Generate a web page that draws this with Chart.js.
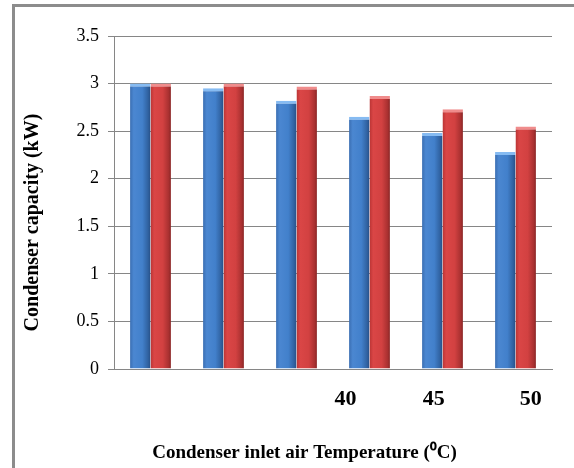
<!DOCTYPE html>
<html>
<head>
<meta charset="utf-8">
<script src="https://cdn.jsdelivr.net/npm/chart.js@4.4.1/dist/chart.umd.min.js"></script>
<style>
  html, body { margin: 0; padding: 0; background: #fff; }
  #wrap { position: relative; width: 574px; height: 468px; }
  #frame { position: absolute; left: 12px; top: 4px; right: 0; bottom: 0;
           border-left: 3px solid #8c8c8c; border-top: 3px solid #8c8c8c; }
  canvas { position: absolute; left: 0; top: 0; }
</style>
</head>
<body>
<div id="wrap">
  <div id="frame"></div>
  <canvas id="chart" width="574" height="468"></canvas>
</div>
<script>
// data
const categories = ["25", "30", "35", "40", "45", "50"];
const seriesBlue = [3.0, 2.95, 2.82, 2.65, 2.48, 2.28];
const seriesRed = [3.0, 3.0, 2.97, 2.87, 2.73, 2.55];
const tickLabels = ["40", "45", "50"];

const catPct = 0.56;
const serif = "'Liberation Serif', 'Times New Roman', serif";

// horizontal gradient per bar, so it looks a bit like a cylinder
function barFill(stops, fallback) {
  return (ctx) => {
    const chart = ctx.chart;
    const x = chart.scales.x;
    if (!x || ctx.dataIndex === undefined) return fallback;
    const center = x.getPixelForValue(ctx.dataIndex);
    const w = (x.width / categories.length) * catPct / 2;
    if (!isFinite(center) || !isFinite(w) || w <= 0) return fallback;
    const left = ctx.datasetIndex === 0 ? center - w : center;
    const g = chart.ctx.createLinearGradient(left, 0, left + w, 0);
    stops.forEach(s => g.addColorStop(s[0], s[1]));
    return g;
  };
}

const blueStops = [[0, "#3a6eb2"], [0.18, "#4b87d1"], [0.6, "#4280cb"], [0.88, "#3062a1"], [1, "#274f86"]];
const redStops = [[0, "#b93434"], [0.18, "#da4646"], [0.6, "#d24141"], [0.88, "#aa3131"], [1, "#8a2626"]];

new Chart(document.getElementById("chart"), {
  type: "bar",
  data: {
    labels: categories,
    datasets: [
      {
        data: seriesBlue,
        backgroundColor: barFill(blueStops, "#4280cb"),
        borderColor: "#86bbf2",
        borderWidth: { top: 3, left: 0, right: 0, bottom: 0 },
        borderSkipped: "bottom",
      },
      {
        data: seriesRed,
        backgroundColor: barFill(redStops, "#d24141"),
        borderColor: "#f08c8c",
        borderWidth: { top: 3, left: 0, right: 0, bottom: 0 },
        borderSkipped: "bottom",
      },
    ],
  },
  options: {
    responsive: false,
    animation: false,
    layout: { padding: { top: 36, right: 22, bottom: 0, left: 0 } },
    datasets: { bar: { barPercentage: 1, categoryPercentage: catPct } },
    plugins: {
      legend: { display: false },
      tooltip: { enabled: false },
    },
    scales: {
      x: {
        grid: { display: false },
        border: { color: "#868686", width: 1 },
        ticks: { display: false },
        afterFit: (s) => { s.height = 0; },
      },
      x2: {
        type: "linear",
        position: "bottom",
        offset: false,
        min: 0,
        max: 6,
        grid: { display: false },
        border: { display: false },
        afterBuildTicks: (s) => {
          // label spots under the last three groups, as placed in the picture
          s.ticks = [3.17, 4.38, 5.71].map(v => ({ value: v }));
        },
        ticks: {
          autoSkip: false,
          maxRotation: 0,
          padding: 9,
          color: "#000",
          font: { family: serif, size: 22, weight: "bold" },
          callback: (v, i) => tickLabels[i],
        },
        title: {
          display: true,
          // trailing em spaces nudge the centred title left, as in the picture
          text: "Condenser inlet air Temperature (\u2070C)\u2003\u2003\u2003",
          color: "#000",
          font: { family: serif, size: 19, weight: "bold" },
          padding: { top: 0, bottom: 4 },
        },
        afterFit: (s) => { s.height = 99; },
      },
      y: {
        min: 0,
        max: 3.5,
        ticks: {
          stepSize: 0.5,
          padding: 9,
          color: "#000",
          font: { family: serif, size: 18 },
          callback: (v) => String(v),
        },
        grid: { color: "#868686", lineWidth: 1, tickLength: 6 },
        border: { color: "#868686", width: 1 },
        title: {
          display: true,
          text: "Condenser capacity (kW)\u2003\u2003",
          color: "#000",
          font: { family: serif, size: 20, weight: "bold" },
          padding: { top: 21, bottom: 0 },
        },
        afterFit: (s) => { s.width = 114; },
      },
    },
  },
});
</script>
</body>
</html>
